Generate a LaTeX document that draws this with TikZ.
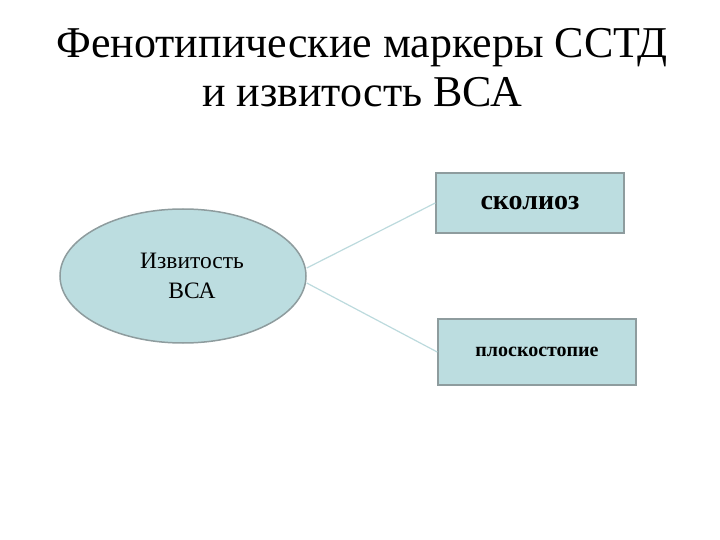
\documentclass[tikz,border=0pt]{standalone}
\usepackage{fontspec}
\setmainfont{Liberation Serif}
\usetikzlibrary{shapes.geometric}
\definecolor{fillc}{HTML}{BCDDE0}
\definecolor{bord}{HTML}{8E9C9E}
\definecolor{linec}{HTML}{BCDADD}
\begin{document}
\begin{tikzpicture}[x=1pt,y=-1pt,
  box/.style={draw=bord,line width=1.5pt,fill=fillc,inner sep=0pt},
  conn/.style={draw=linec,line width=1.2pt}]
\useasboundingbox (0,0) rectangle (720,540);
\node[font=\fontsize{44}{49}\selectfont,align=center] (title) at (362,68) {Фенотипические маркеры ССТД\\и извитость ВСА};
\node[box,ellipse,minimum width=246pt,minimum height=134pt] (e) at (183,276) {};
\node[align=center,font=\fontsize{23.5}{30}\selectfont] (et) at (192,276) {Извитость\\ВСА};
\node[box,minimum width=188pt,minimum height=60pt,font=\bfseries\fontsize{28}{32}\selectfont] (b1) at (530,203) {сколиоз};
\node[box,minimum width=198pt,minimum height=66pt,font=\bfseries\fontsize{20}{24}\selectfont] (b2) at (537,352) {плоскостопие};
\draw[conn] (e.east)++(0,-8) -- (b1.west);
\draw[conn] (e.east)++(0,7) -- (b2.west);
\end{tikzpicture}
\end{document}
